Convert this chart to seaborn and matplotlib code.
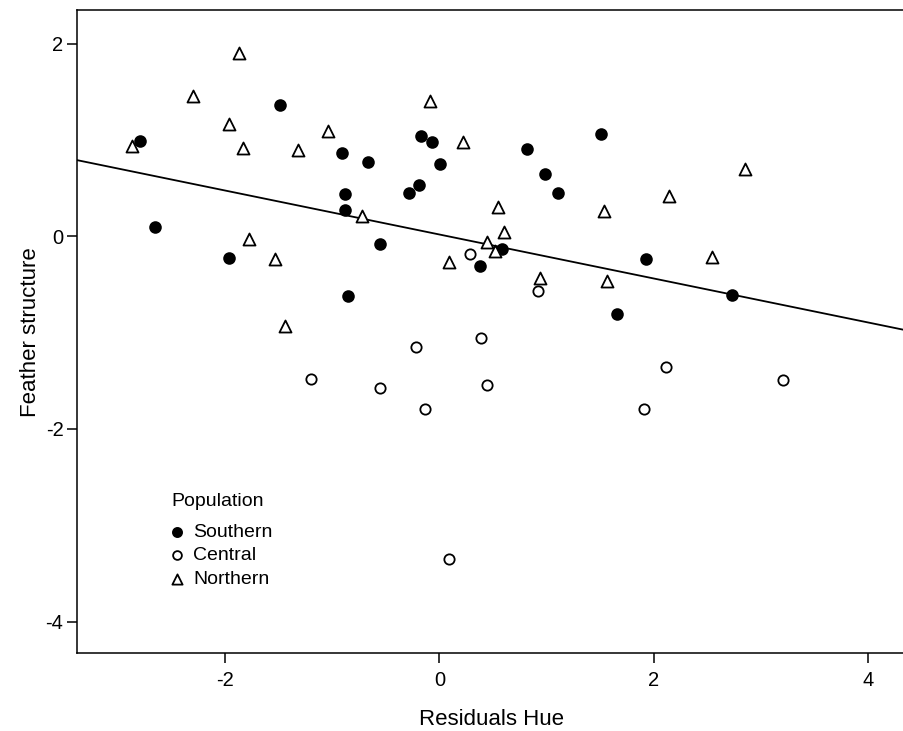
import matplotlib
matplotlib.use('Agg')
import matplotlib.pyplot as plt
import seaborn as sns
import numpy as np
import pandas as pd

# values
south_x = [-2.79, -2.65, -1.96, -1.49, -0.91, -0.88, -0.88, -0.85, -0.67, -0.55,
           -0.28, -0.19, -0.17, -0.07, 0.01, 0.38, 0.58, 0.82, 0.99, 1.11,
           1.51, 1.66, 1.93, 2.73]
south_y = [0.99, 0.10, -0.22, 1.36, 0.87, 0.44, 0.27, -0.62, 0.77, -0.08,
           0.45, 0.53, 1.04, 0.98, 0.75, -0.31, -0.13, 0.91, 0.65, 0.45,
           1.06, -0.81, -0.24, -0.61]

central_x = [-1.20, -0.55, -0.22, -0.13, 0.09, 0.29, 0.39, 0.44, 0.92, 1.91, 2.11, 3.21]
central_y = [-1.48, -1.58, -1.15, -1.79, -3.35, -0.18, -1.06, -1.54, -0.57, -1.79, -1.36, -1.49]

north_x = [-2.87, -2.30, -1.96, -1.87, -1.83, -1.78, -1.53, -1.44, -1.32, -1.04,
           -0.72, -0.09, 0.09, 0.22, 0.44, 0.52, 0.55, 0.60, 0.94, 1.54,
           1.56, 2.14, 2.54, 2.85]
north_y = [0.94, 1.46, 1.17, 1.90, 0.92, -0.03, -0.24, -0.93, 0.90, 1.09,
           0.21, 1.40, -0.27, 0.98, -0.06, -0.15, 0.30, 0.04, -0.43, 0.26,
           -0.46, 0.42, -0.21, 0.70]

populations = ['Southern', 'Central', 'Northern']

df = pd.concat([
    pd.DataFrame({'x': south_x, 'y': south_y, 'pop': 'Southern'}),
    pd.DataFrame({'x': central_x, 'y': central_y, 'pop': 'Central'}),
    pd.DataFrame({'x': north_x, 'y': north_y, 'pop': 'Northern'}),
], ignore_index=True)

sns.set_style('ticks')
plt.rcParams['font.family'] = ['Liberation Sans', 'DejaVu Sans']
plt.rcParams['axes.unicode_minus'] = False
plt.rcParams['text.color'] = 'black'
plt.rcParams['axes.labelcolor'] = 'black'
plt.rcParams['xtick.color'] = 'black'
plt.rcParams['ytick.color'] = 'black'

fig = plt.figure(figsize=(9.04, 7.31), dpi=100)
ax = fig.add_axes([0.0848, 0.1063, 0.9185, 0.880])
ax.set_xlim(-3.383, 4.362)
ax.set_ylim(-4.33, 2.35)

# marker styles per group
styles = {
    'Southern': dict(marker='o', facecolor='black', s=60),
    'Central': dict(marker='o', facecolor='white', s=55),
    'Northern': dict(marker='^', facecolor='white', s=75),
}
for p in populations:
    sub = df[df['pop'] == p]
    st = styles[p]
    sns.scatterplot(x='x', y='y', data=sub, marker=st['marker'], s=st['s'],
                    color=st['facecolor'], edgecolor='black', linewidth=1.3,
                    label=p, ax=ax, zorder=3)

# fit line over all points
sns.regplot(x='x', y='y', data=df, scatter=False, ci=None, truncate=False,
            line_kws=dict(color='black', lw=1.3), ax=ax)
ax.set_xlim(-3.383, 4.362)

ax.set_xticks([-2, 0, 2, 4])
ax.set_yticks([-4, -2, 0, 2])
ax.set_xlabel('Residuals Hue', fontsize=16, labelpad=14)
ax.set_ylabel('Feather structure', fontsize=16, labelpad=3)
ax.tick_params(labelsize=14.5, length=7.5, width=1.1, color='black')
ax.tick_params(axis='x', pad=5)
ax.tick_params(axis='y', pad=2)
for side in ['left', 'bottom', 'top']:
    ax.spines[side].set_linewidth(1.1)
    ax.spines[side].set_color('black')
ax.spines['right'].set_visible(False)

leg = ax.legend(title='Population', loc='upper left', bbox_to_anchor=(0.105, 0.261),
                frameon=False, fontsize=14, title_fontsize=14, handlelength=0.6,
                handletextpad=0.5, labelspacing=0.3, markerscale=0.85,
                alignment='left', borderaxespad=0)
leg._legend_box.sep = 9.5

plt.savefig('out.png', dpi=100)
